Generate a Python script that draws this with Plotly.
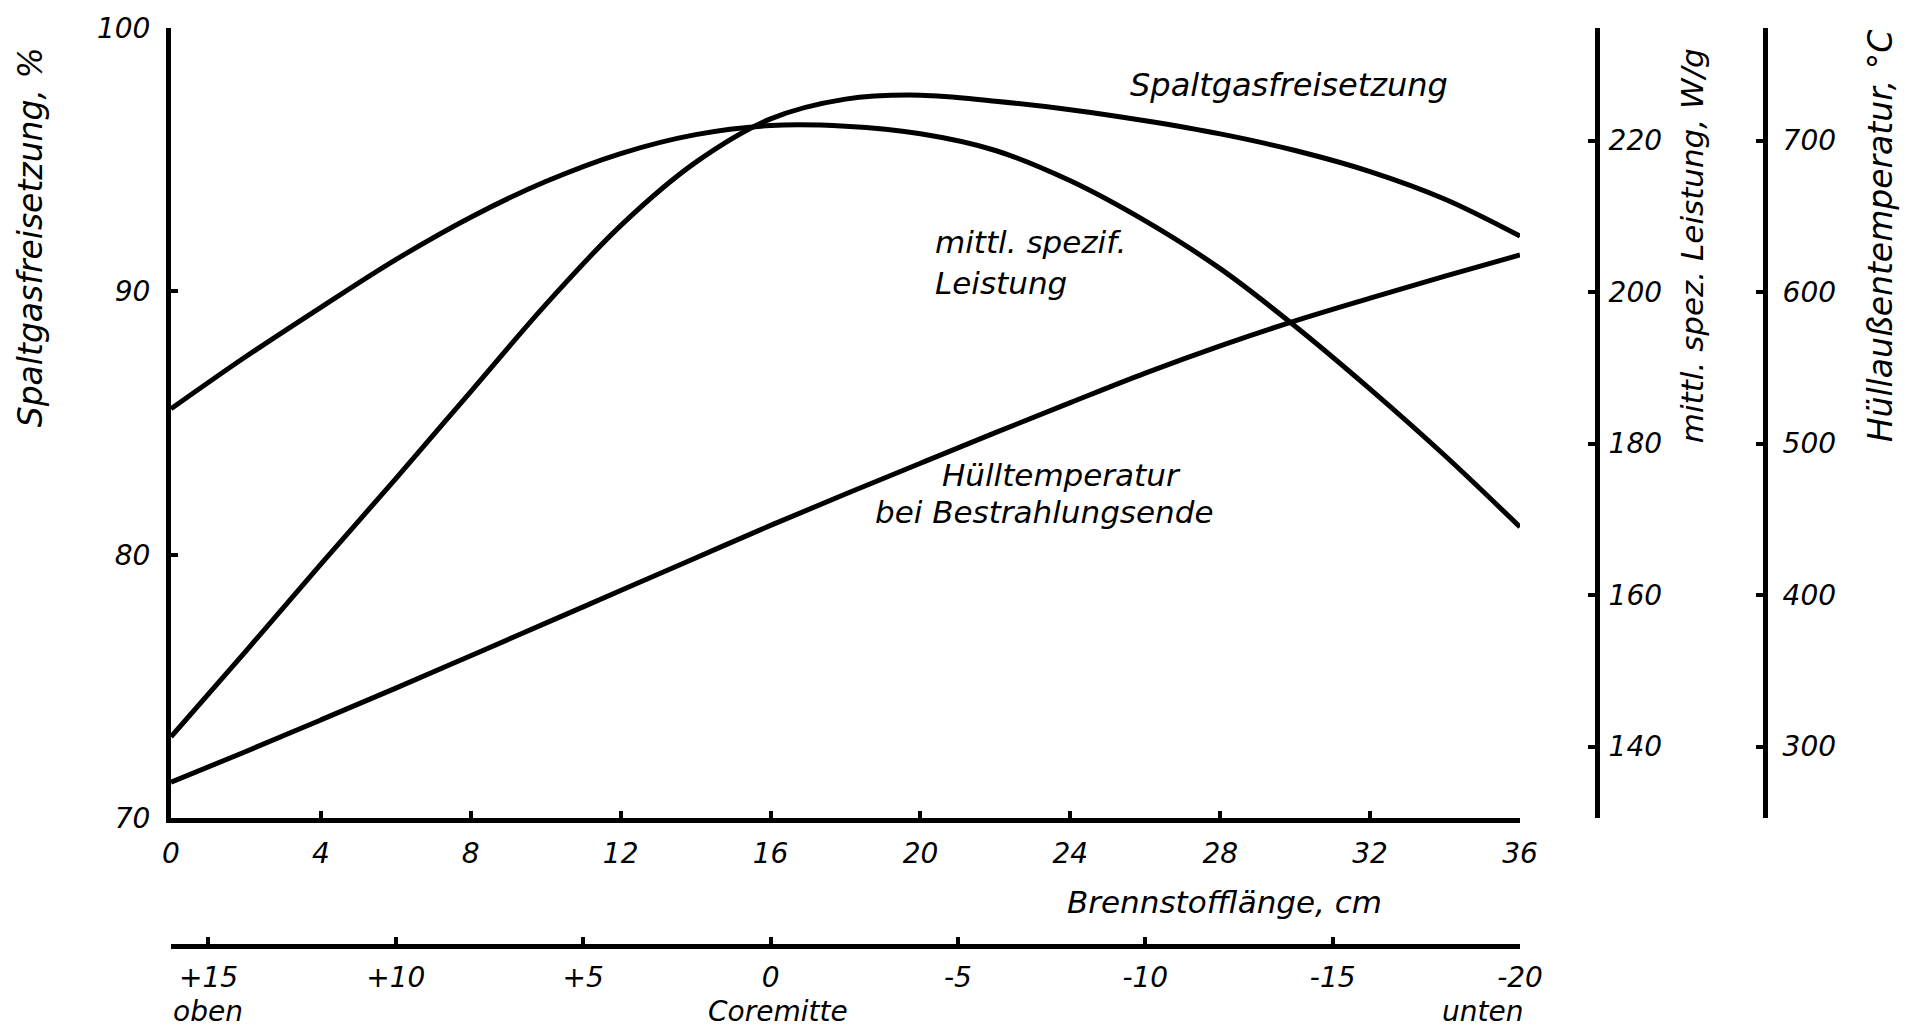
import plotly.graph_objects as go

# ---------------- data ----------------
brennstofflaenge_cm = [0, 2, 4, 6, 8, 10, 12, 14, 16, 18, 20, 22, 24, 26, 28, 30, 32, 34, 36]
spaltgasfreisetzung_pct = [73.1, 76.35, 79.65, 82.9, 86.2, 89.5, 92.5, 94.9, 96.55, 97.3, 97.45,
                           97.22, 96.9, 96.48, 95.98, 95.35, 94.55, 93.5, 92.1]
spez_leistung_wg = [184.6, 191.5, 198.0, 204.3, 209.9, 214.6, 218.3, 220.8, 222.0, 221.9, 220.9,
                    218.7, 214.7, 209.4, 203.1, 195.5, 187.2, 178.4, 169.0]
huelltemperatur_c = [276.5, 296.8, 317.6, 338.6, 360.0, 381.5, 403.0, 424.5, 446.0, 466.7, 487.0,
                     507.2, 527.0, 546.5, 564.5, 581.0, 596.0, 610.5, 624.5]

x_ticks = [0, 4, 8, 12, 16, 20, 24, 28, 32, 36]
y_ticks_pct = [70, 80, 90, 100]
y_ticks_wg = [140, 160, 180, 200, 220]
y_ticks_temp = [300, 400, 500, 600, 700]
core_ticks = [15, 10, 5, 0, -5, -10, -15, -20]
core_ticktext = ["+15", "+10", "+5", "0", "-5", "-10", "-15", "-20"]

# ---------------- geometry helpers ----------------
FIG_W, FIG_H = 1911, 1030
ML, MR, MT, MB = 171, 146, 25, 84
PW = FIG_W - ML - MR
PH = FIG_H - MT - MB


def px_x(px):
    return (px - ML) / PW


def px_y(py):
    return (FIG_H - MB - py) / PH


FONT = "DejaVu Sans"
BLACK = "#000000"
LW = 5


def ifont(size):
    return dict(family=FONT, size=size, color=BLACK, style="italic")


fig = go.Figure()

fig.add_trace(go.Scatter(x=brennstofflaenge_cm, y=spaltgasfreisetzung_pct, mode="lines",
                         line=dict(color=BLACK, width=LW, shape="spline", smoothing=1.0),
                         xaxis="x", yaxis="y", showlegend=False, hoverinfo="skip"))
fig.add_trace(go.Scatter(x=brennstofflaenge_cm, y=spez_leistung_wg, mode="lines",
                         line=dict(color=BLACK, width=LW, shape="spline", smoothing=1.0),
                         xaxis="x", yaxis="y2", showlegend=False, hoverinfo="skip"))
fig.add_trace(go.Scatter(x=brennstofflaenge_cm, y=huelltemperatur_c, mode="lines",
                         line=dict(color=BLACK, width=LW, shape="spline", smoothing=1.0),
                         xaxis="x", yaxis="y3", showlegend=False, hoverinfo="skip"))
# carrier trace so that the Coremitte scale is drawn
fig.add_trace(go.Scatter(x=core_ticks, y=[None] * len(core_ticks), mode="lines",
                         xaxis="x2", yaxis="y", showlegend=False, hoverinfo="skip"))

axis_common = dict(showgrid=False, zeroline=False, showline=True, linecolor=BLACK,
                   linewidth=LW, ticks="inside", ticklen=7, tickwidth=4, tickcolor=BLACK,
                   tickfont=ifont(28))

fig.update_layout(
    width=FIG_W, height=FIG_H,
    margin=dict(l=ML, r=MR, t=MT, b=MB, pad=0),
    paper_bgcolor="white", plot_bgcolor="white",
    showlegend=False,
    xaxis=dict(domain=[0, px_x(1520)], range=[0, 36], tickvals=x_ticks, anchor="y",
               ticklabelstandoff=6, **axis_common),
    xaxis2=dict(overlaying="x", anchor="free", position=0, side="bottom",
                range=[16, -20], tickvals=core_ticks, ticktext=core_ticktext,
                ticklabelstandoff=4, **axis_common),
    yaxis=dict(domain=[px_y(818), 1], range=[70, 100], tickvals=y_ticks_pct, anchor="x",
               ticklabelstandoff=10, **axis_common),
    yaxis2=dict(overlaying="y", anchor="free", position=px_x(1597), side="right",
                range=[130.53, 234.87], tickvals=y_ticks_wg, ticklabelstandoff=3,
                **axis_common),
    yaxis3=dict(overlaying="y", anchor="free", position=1.0, side="right",
                range=[252.6, 774.3], tickvals=y_ticks_temp, ticklabelstandoff=9,
                **axis_common),
)

ann = []
# axis titles
ann.append(dict(text="Spaltgasfreisetzung, %", xref="paper", yref="paper",
                x=px_x(30), y=px_y(235), textangle=-90, showarrow=False,
                font=ifont(33), xanchor="center", yanchor="middle"))
ann.append(dict(text="mittl. spez. Leistung, W/g", xref="paper", yref="paper",
                x=px_x(1692), y=px_y(244), textangle=-90, showarrow=False,
                font=ifont(31), xanchor="center", yanchor="middle"))
ann.append(dict(text="Hüllaußentemperatur, °C", xref="paper", yref="paper",
                x=px_x(1880), y=px_y(234), textangle=-90, showarrow=False,
                font=ifont(33), xanchor="center", yanchor="middle"))
ann.append(dict(text="Brennstofflänge, cm", xref="paper", yref="paper",
                x=px_x(1224), y=px_y(902), showarrow=False, font=ifont(31),
                xanchor="center", yanchor="middle"))
# Coremitte scale captions
ann.append(dict(text="oben", xref="x2", yref="paper", x=15, y=px_y(1012),
                showarrow=False, font=ifont(28), xanchor="center", yanchor="middle"))
ann.append(dict(text="Coremitte", xref="x2", yref="paper", x=-0.2, y=px_y(1012),
                showarrow=False, font=ifont(28), xanchor="center", yanchor="middle"))
ann.append(dict(text="unten", xref="x2", yref="paper", x=-19, y=px_y(1012),
                showarrow=False, font=ifont(28), xanchor="center", yanchor="middle"))
# curve labels
ann.append(dict(text="Spaltgasfreisetzung", xref="x", yref="y", x=29.84, y=97.85,
                showarrow=False, font=ifont(32), xanchor="center", yanchor="middle"))
ann.append(dict(text="mittl. spezif.", xref="x", yref="y", x=20.34, y=91.87,
                showarrow=False, font=ifont(31), xanchor="left", yanchor="middle"))
ann.append(dict(text="Leistung", xref="x", yref="y", x=20.34, y=90.32,
                showarrow=False, font=ifont(31), xanchor="left", yanchor="middle"))
ann.append(dict(text="Hülltemperatur", xref="x", yref="y", x=20.52, y=83.05,
                showarrow=False, font=ifont(31), xanchor="left", yanchor="middle"))
ann.append(dict(text="bei Bestrahlungsende", xref="x", yref="y", x=18.73, y=81.62,
                showarrow=False, font=ifont(31), xanchor="left", yanchor="middle"))
fig.update_layout(annotations=ann)

fig.write_html("out.html")
